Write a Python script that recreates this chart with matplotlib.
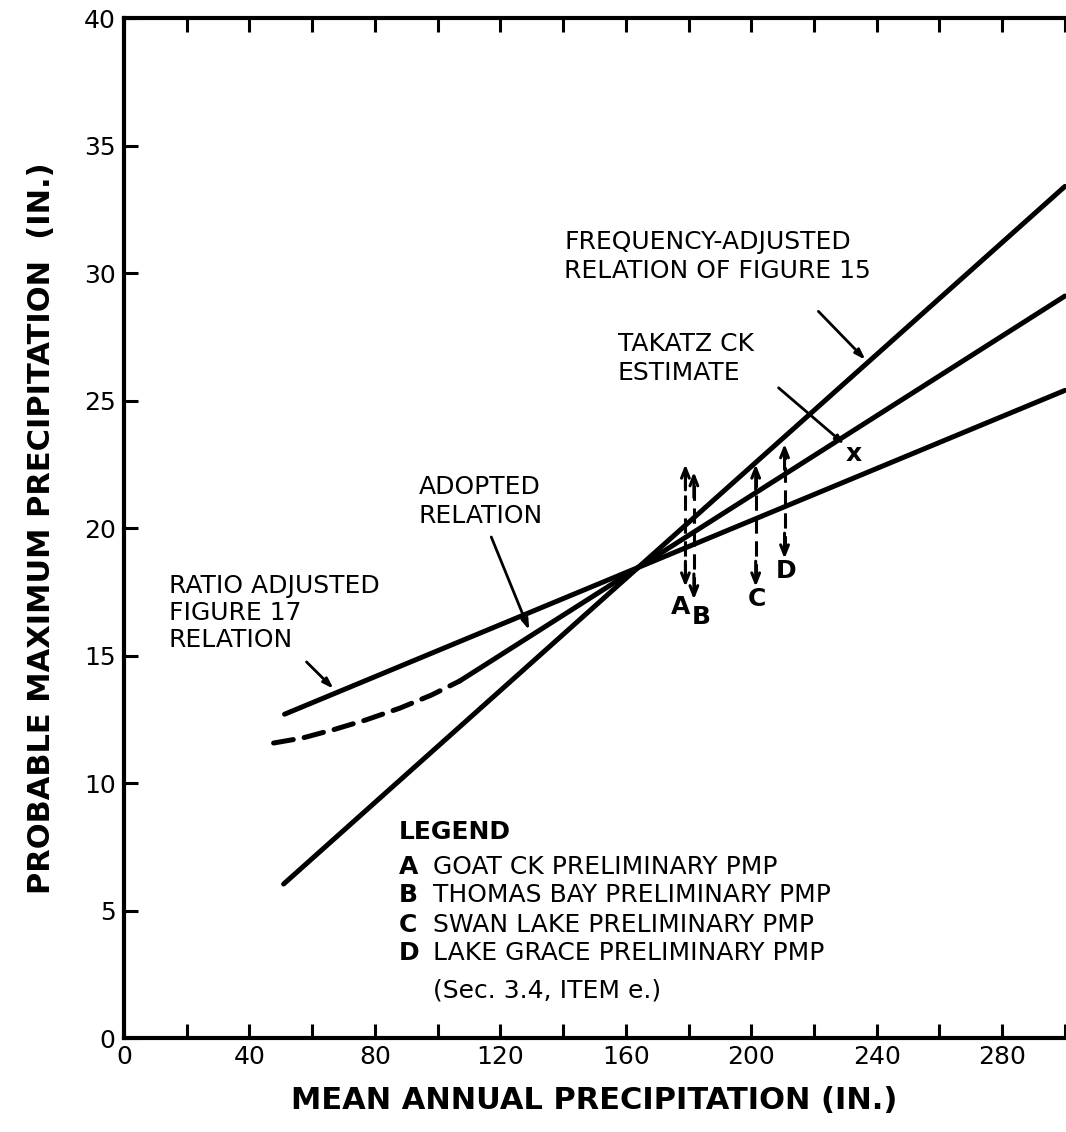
import matplotlib
matplotlib.use("Agg")
import matplotlib.pyplot as plt
from matplotlib.ticker import MultipleLocator

plt.rcParams['font.family'] = ['DejaVu Sans']

# --- data ---
freq_x = [50.9, 300]
freq_y = [6.04, 33.4]

adopted_solid_x = [107, 300]
adopted_solid_y = [14.0, 29.1]
adopted_dash_x = [47.7, 57, 67, 77, 88, 98, 107]
adopted_dash_y = [11.57, 11.77, 12.1, 12.47, 12.94, 13.45, 14.0]

ratio_x = [51.2, 300]
ratio_y = [12.7, 25.4]

est_labels = ["A", "B", "C", "D"]
est_x = [179.0, 181.7, 201.4, 210.6]
est_low = [17.7, 17.2, 17.7, 18.8]
est_high = [22.5, 22.2, 22.5, 23.3]
est_lab_x = [177.5, 184.0, 201.7, 211.0]
est_lab_y = [16.9, 16.5, 17.2, 18.3]

takatz_x = [232.6]
takatz_y = [22.9]

xticks_major = [0, 40, 80, 120, 160, 200, 240, 280]
yticks_major = [0, 5, 10, 15, 20, 25, 30, 35, 40]

legend_letters = ["A", "B", "C", "D"]
legend_texts = ["GOAT CK PRELIMINARY PMP",
                "THOMAS BAY PRELIMINARY PMP",
                "SWAN LAKE PRELIMINARY PMP",
                "LAKE GRACE PRELIMINARY PMP"]

fig = plt.figure(figsize=(10.66, 11.32), dpi=100)
ax = fig.add_axes([0.1163, 0.083, 0.8827, 0.901])

lw = 3.6
ax.plot(freq_x, freq_y, color='black', lw=lw, solid_capstyle='round', clip_on=False)
ax.plot(adopted_solid_x, adopted_solid_y, color='black', lw=lw, solid_capstyle='round', clip_on=False)
ax.plot(adopted_dash_x, adopted_dash_y, color='black', lw=lw, dashes=(4, 2.2),
        dash_capstyle='round')
ax.plot(ratio_x, ratio_y, color='black', lw=lw, solid_capstyle='round', clip_on=False)

# estimate arrows (dashed shaft, open heads)
head = '->,head_length=0.7,head_width=0.28'
for x, lo, hi in zip(est_x, est_low, est_high):
    ax.plot([x, x], [lo + 0.3, hi - 0.3], color='black', lw=2.2, dashes=(5, 2.5))
    ax.annotate('', xy=(x, hi), xytext=(x, hi - 1.0),
                arrowprops=dict(arrowstyle=head, color='black', lw=2.2,
                                shrinkA=0, shrinkB=0))
    ax.annotate('', xy=(x, lo), xytext=(x, lo + 1.0),
                arrowprops=dict(arrowstyle=head, color='black', lw=2.2,
                                shrinkA=0, shrinkB=0))
for lab, x, y in zip(est_labels, est_lab_x, est_lab_y):
    ax.text(x, y, lab, fontsize=18, fontweight='bold', ha='center', va='center')

ax.text(takatz_x[0], takatz_y[0], 'x', fontsize=18, fontweight='bold',
        ha='center', va='center')

# annotations
afs = 18
ax.text(140.3, 31.7, "FREQUENCY-ADJUSTED\nRELATION OF FIGURE 15", fontsize=afs,
        ha='left', va='top', linespacing=1.3)
ax.annotate('', xy=(236.4, 26.6), xytext=(221.4, 28.5),
            arrowprops=dict(arrowstyle='-|>,head_length=0.6,head_width=0.2',
                            color='black', lw=2.0, shrinkA=0, shrinkB=0))

ax.text(157.5, 27.7, "TAKATZ CK\nESTIMATE", fontsize=afs,
        ha='left', va='top', linespacing=1.3)
ax.annotate('', xy=(229.6, 23.3), xytext=(208.7, 25.5),
            arrowprops=dict(arrowstyle='-|>,head_length=0.5,head_width=0.18',
                            color='black', lw=2.0, shrinkA=0, shrinkB=0))

ax.text(93.9, 22.1, "ADOPTED\nRELATION", fontsize=afs,
        ha='left', va='top', linespacing=1.3)
ax.annotate('', xy=(129.2, 16.0), xytext=(117.1, 19.65),
            arrowprops=dict(arrowstyle='-|>,head_length=0.6,head_width=0.2',
                            color='black', lw=2.0, shrinkA=0, shrinkB=0))

ax.text(14.3, 18.2, "RATIO ADJUSTED\nFIGURE 17\nRELATION", fontsize=afs,
        ha='left', va='top', linespacing=1.15)
ax.annotate('', xy=(66.8, 13.7), xytext=(58.2, 14.75),
            arrowprops=dict(arrowstyle='-|>,head_length=0.6,head_width=0.2',
                            color='black', lw=2.0, shrinkA=0, shrinkB=0))

# legend block
ax.text(87.5, 8.08, "LEGEND", fontsize=18, fontweight='bold', ha='left', va='center')
leg_y = [6.71, 5.61, 4.43, 3.33]
for L, T, y in zip(legend_letters, legend_texts, leg_y):
    ax.text(87.5, y, L, fontsize=18, fontweight='bold', ha='left', va='center')
    ax.text(98.6, y, T, fontsize=18, ha='left', va='center')
ax.text(98.6, 1.85, "(Sec. 3.4, ITEM e.)", fontsize=18, ha='left', va='center')

# axes
ax.set_xlim(0, 300)
ax.set_ylim(0, 40)
ax.set_xticks(xticks_major)
ax.set_yticks(yticks_major)
ax.xaxis.set_minor_locator(MultipleLocator(20))
ax.tick_params(axis='both', which='both', direction='in', width=2.2,
               color='black', labelsize=18)
ax.tick_params(axis='x', which='both', length=10, top=True, bottom=True, pad=5)
ax.tick_params(axis='y', which='both', length=10, left=True, right=False, pad=6)
for s in ['left', 'bottom', 'top']:
    ax.spines[s].set_linewidth(3.0)
ax.spines['right'].set_visible(False)

ax.set_xlabel("MEAN ANNUAL PRECIPITATION (IN.)", fontsize=22, fontweight='bold',
              labelpad=12)
ax.set_ylabel("PROBABLE MAXIMUM PRECIPITATION  (IN.)", fontsize=22, fontweight='bold',
              labelpad=20)

fig.savefig("out.png", dpi=100)
